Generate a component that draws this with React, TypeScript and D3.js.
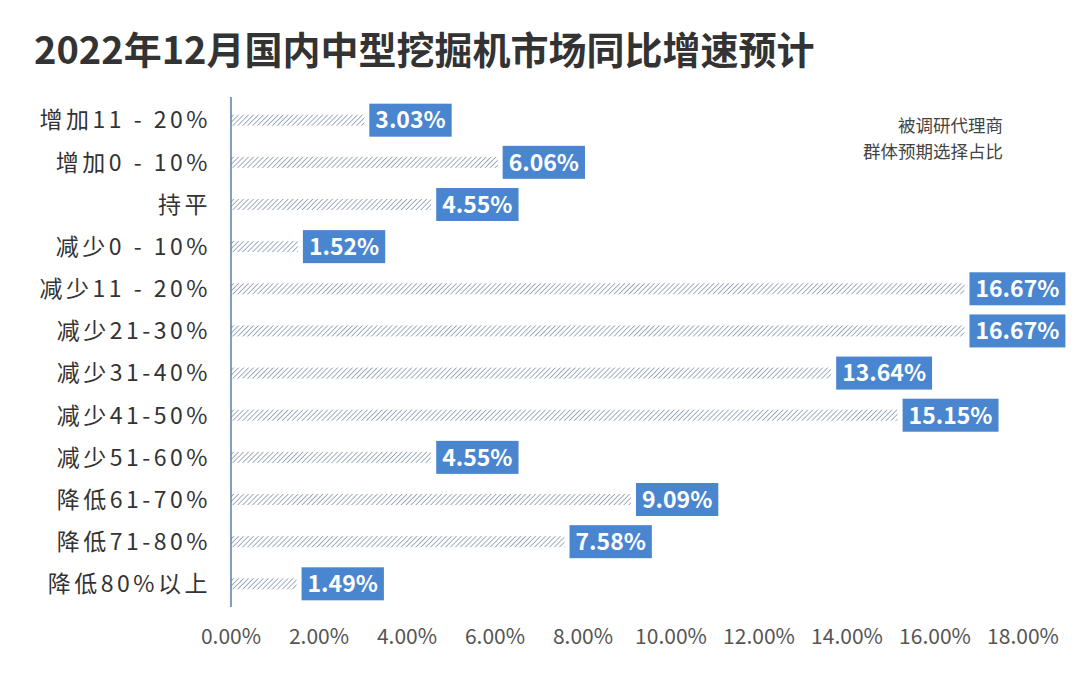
import { useEffect, useRef } from "react";
import * as d3 from "d3";

const categories = [
  "增加11 - 20%",
  "增加0 - 10%",
  "持平",
  "减少0 - 10%",
  "减少11 - 20%",
  "减少21-30%",
  "减少31-40%",
  "减少41-50%",
  "减少51-60%",
  "降低61-70%",
  "降低71-80%",
  "降低80%以上",
];
const values = [3.03, 6.06, 4.55, 1.52, 16.67, 16.67, 13.64, 15.15, 4.55, 9.09, 7.58, 1.49];
const ticks = [0, 2, 4, 6, 8, 10, 12, 14, 16, 18];
const noteLines = ["被调研代理商", "群体预期选择占比"];

const W = 1080;
const H = 675;
const margin = { top: 97, right: 57, bottom: 68, left: 231 };
const font = "'Noto Sans CJK SC', 'Noto Sans', sans-serif";

export default function App() {
  const ref = useRef<SVGSVGElement>(null);

  useEffect(() => {
    const svg = d3.select(ref.current!);
    svg.selectAll("*").remove();

    const defs = svg.append("defs");
    const pat = defs
      .append("pattern")
      .attr("id", "hatch")
      .attr("patternUnits", "userSpaceOnUse")
      .attr("width", 3.5)
      .attr("height", 3.5)
      .attr("patternTransform", "rotate(45)");
    pat
      .append("line")
      .attr("x1", 0)
      .attr("y1", 0)
      .attr("x2", 0)
      .attr("y2", 3.5)
      .attr("stroke", "#6f849e")
      .attr("stroke-width", 1.3);

    const x = d3
      .scaleLinear()
      .domain([0, 18])
      .range([margin.left, W - margin.right]);
    const y = d3
      .scaleBand()
      .domain(categories)
      .range([margin.top, H - margin.bottom])
      .paddingInner(0)
      .paddingOuter(0.05);

    // title
    svg
      .append("text")
      .attr("x", 34)
      .attr("y", 64)
      .attr("font-family", font)
      .attr("font-size", 38)
      .attr("font-weight", 700)
      .attr("fill", "#333")
      .text("2022年12月国内中型挖掘机市场同比增速预计");

    // note, one text per line
    svg
      .append("g")
      .selectAll("text")
      .data(noteLines)
      .join("text")
      .attr("x", 1003)
      .attr("y", (_, i) => 132 + i * 26)
      .attr("text-anchor", "end")
      .attr("font-family", font)
      .attr("font-size", 17.5)
      .attr("fill", "#444")
      .text((d) => d);

    const bh = 11;
    const rows = svg
      .append("g")
      .selectAll("g")
      .data(categories)
      .join("g")
      .attr("transform", (d) => `translate(0,${y(d)! + y.bandwidth() / 2})`);

    rows
      .append("rect")
      .attr("x", x(0))
      .attr("y", -bh / 2)
      .attr("width", (_, i) => x(values[i]) - x(0))
      .attr("height", bh)
      .attr("fill", "url(#hatch)");

    rows
      .append("text")
      .attr("x", margin.left - 20)
      .attr("y", 0)
      .attr("dy", "0.36em")
      .attr("text-anchor", "end")
      .attr("font-family", font)
      .attr("font-size", 23)
      .attr("letter-spacing", "3.5px")
      .attr("fill", "#333")
      .text((d) => d);

    rows.each(function (_, i) {
      const g = d3.select(this);
      const bx = x(values[i]) + 5;
      const rect = g.append("rect").attr("fill", "#4a86cf");
      const t = g
        .append("text")
        .attr("x", bx + 6)
        .attr("y", 0)
        .attr("dy", "0.36em")
        .attr("font-family", font)
        .attr("font-size", 23)
        .attr("font-weight", 700)
        .attr("fill", "#fff")
        .text(values[i].toFixed(2) + "%");
      const w = (t.node() as SVGTextElement).getComputedTextLength();
      rect
        .attr("x", bx)
        .attr("y", -16.5)
        .attr("width", w + 12)
        .attr("height", 33);
    });

    // axis line
    svg
      .append("line")
      .attr("x1", x(0))
      .attr("x2", x(0))
      .attr("y1", margin.top)
      .attr("y2", H - margin.bottom)
      .attr("stroke", "#5b7fa8")
      .attr("stroke-width", 1.5);

    svg
      .append("g")
      .selectAll("text")
      .data(ticks)
      .join("text")
      .attr("x", (d) => x(d))
      .attr("y", 644)
      .attr("text-anchor", "middle")
      .attr("font-family", font)
      .attr("font-size", 21)
      .attr("fill", "#555")
      .text((d) => d.toFixed(2) + "%");
  }, []);

  return (
    <svg
      ref={ref}
      width={W}
      height={H}
      style={{ position: "absolute", left: 0, top: 0, background: "#fff" }}
    />
  );
}
